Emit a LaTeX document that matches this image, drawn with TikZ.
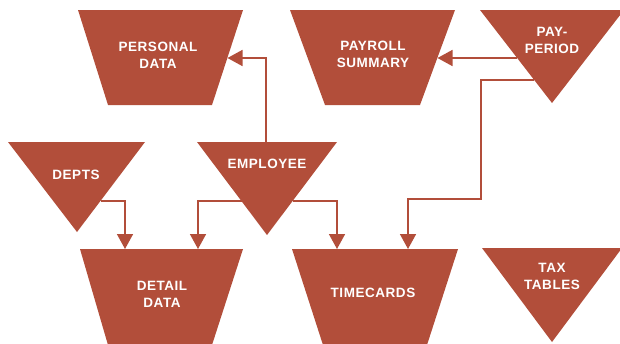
\documentclass[tikz,border=0pt]{standalone}
\usepackage{fontspec}
\setmainfont{Liberation Sans}[LetterSpace=4]
\usetikzlibrary{arrows.meta}
\definecolor{brick}{RGB}{178,78,58}
\begin{document}
\begin{tikzpicture}[x=1pt,y=-1pt,
  shapefill/.style={fill=brick},
  lbl/.style={text=white,font=\bfseries\fontsize{13.5}{17}\selectfont,align=center,inner sep=0pt},
  flow/.style={draw=brick,line width=1.6pt,line join=miter,-{Triangle[length=15pt,width=16pt]}}]
\useasboundingbox (0,0) rectangle (620,343);
% shapes
\fill[shapefill] (78,10) -- (243,10) -- (212,105) -- (108,105) -- cycle;   % personal data
\fill[shapefill] (290,10) -- (455,10) -- (420,105) -- (325,105) -- cycle;  % payroll summary
\fill[shapefill] (480,10) -- (624,10) -- (552,103) -- cycle;               % pay-period
\fill[shapefill] (8,142) -- (145,142) -- (77,232) -- cycle;                % depts
\fill[shapefill] (197,142) -- (337,142) -- (267,235) -- cycle;             % employee
\fill[shapefill] (80,249) -- (243,249) -- (212,345) -- (108,345) -- cycle; % detail data
\fill[shapefill] (292,249) -- (458,249) -- (427,345) -- (323,345) -- cycle;% timecards
\fill[shapefill] (482,248) -- (622,248) -- (552,342) -- cycle;             % tax tables
% labels
\node[lbl] (personal) at (158,55) {PERSONAL\\DATA};
\node[lbl] (payroll) at (373,54) {PAYROLL\\SUMMARY};
\node[lbl] (payperiod) at (552,40) {PAY-\\PERIOD};
\node[lbl] (depts) at (76,175) {DEPTS};
\node[lbl] (employee) at (267,164) {EMPLOYEE};
\node[lbl] (detail) at (162,294) {DETAIL\\DATA};
\node[lbl] (timecards) at (373,293) {TIMECARDS};
\node[lbl] (tax) at (552,276) {TAX\\TABLES};
% connector end points
\coordinate (persR) at (227.5,58);
\coordinate (payrR) at (437.5,58);
\coordinate (ppL1) at (517,58);
\coordinate (ppL2) at (534,80);
\coordinate (depR) at (100.5,201);
\coordinate (empT) at (266,142);
\coordinate (empL) at (241.5,201);
\coordinate (empR) at (292.5,201);
\coordinate (detT1) at (125,249);
\coordinate (detT2) at (198,249);
\coordinate (timT1) at (337,249);
\coordinate (timT2) at (408,249);
% connectors
\draw[flow] (empT) |- (persR);
\draw[flow] (ppL1) -- (payrR);
\draw[flow] (ppL2) -- (481,80) -- (481,199) -| (timT2);
\draw[flow] (depR) -| (detT1);
\draw[flow] (empL) -| (detT2);
\draw[flow] (empR) -| (timT1);
\end{tikzpicture}
\end{document}
